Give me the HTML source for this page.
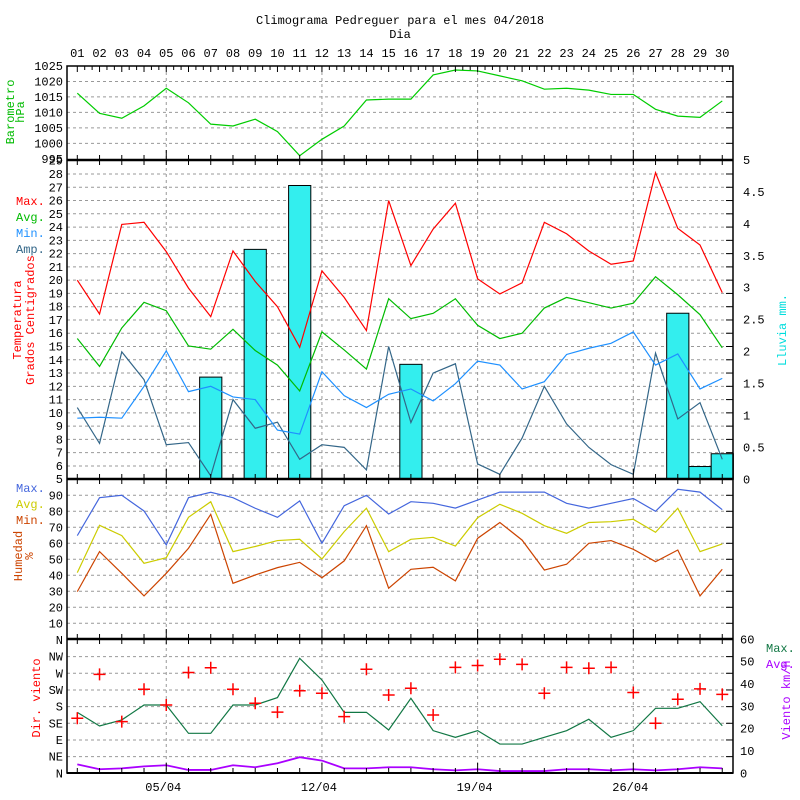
<!DOCTYPE html>
<html><head><meta charset="utf-8"><style>
body{margin:0;background:#fff;}
svg{display:block;font-family:"Liberation Mono",monospace;font-size:12px;}
</style></head><body>
<svg id="chart" width="800" height="800" viewBox="0 0 800 800"></svg>
<script>
const days=["01","02","03","04","05","06","07","08","09","10","11","12","13","14","15","16","17","18","19","20","21","22","23","24","25","26","27","28","29","30"];
const pressure=[1016.2,1009.7,1008.1,1012.1,1017.8,1013.1,1006.2,1005.6,1007.8,1003.8,996,1001.3,1005.6,1014,1014.3,1014.3,1022.1,1023.7,1023.4,1021.8,1020.2,1017.5,1017.8,1017.2,1015.8,1015.8,1011,1008.8,1008.4,1013.7];
const tempMax=[20,17.45,24.2,24.36,22.15,19.4,17.25,22.2,19.9,18,14.94,20.7,18.7,16.2,26,21.1,23.85,25.8,20.1,18.96,19.8,24.36,23.5,22.2,21.2,21.45,28.1,23.9,22.65,19.06];
const tempAvg=[15.6,13.5,16.4,18.33,17.7,15.04,14.8,16.3,14.7,13.6,11.65,16.1,14.74,13.3,18.6,17.1,17.5,18.6,16.6,15.6,16,17.9,18.7,18.3,17.9,18.26,20.26,18.9,17.4,14.9];
const tempMin=[9.6,9.67,9.6,12,14.67,11.6,12,11.2,11,8.7,8.4,13.1,11.3,10.4,11.4,11.8,10.9,12.2,13.9,13.6,11.8,12.35,14.4,14.87,15.24,16.1,13.6,14.44,11.8,12.6];
const tempAmp=[10.4,7.7,14.6,12.5,7.6,7.76,5.25,11,8.84,9.3,6.5,7.6,7.4,5.7,15,9.27,13,13.7,6.15,5.37,8.1,12,9.17,7.4,6.1,5.37,14.5,9.54,10.77,6.5];
const rain=[0,0,0,0,0,0,1.6,0,3.6,0,4.6,0,0,0,0,1.8,0,0,0,0,0,0,0,0,0,0,0,2.6,0.2,0.4];
const humMax=[64.8,88.5,90,80.2,59,88.5,91.9,88.5,81.9,76.25,86.5,60,83.5,90,78.3,86,85,82,87,92,92,92,85,82,85,88,80,93.75,92,81];
const humAvg=[41.7,71.25,64.8,47.5,51,76.25,86,54.8,58,61.7,62.5,50.2,67.3,81.9,54.8,62.5,63.75,58.3,76,84.4,78.75,71,66.25,73,73.5,75,66.9,81.9,54.8,59.6];
const humMin=[29.8,54.8,41.25,27.1,41.25,56.9,78.1,35,40.2,44.8,48.1,38.5,49,71,31.9,43.75,45,36.5,63.1,73,62,43.3,46.9,60,61.7,56.25,48.5,55.8,27.1,43.75];
const windDir=[148.5,267,139.5,227,184.5,272,285,227,189,165,223,216,153,281,211.5,229.5,157.5,286,291,308,294,216,286,283.5,286,218,135,200,228,213];
const windMax=[27.3,21.2,23.9,30.6,30.6,17.9,17.9,30.6,30.6,33.9,51.5,41.8,27.3,27.3,19.4,33.6,19.1,16.1,19.1,13.1,13.1,16.1,19.1,24.2,16.1,19.1,29.1,29.1,32.1,21.3];
const windAvg=[4,1.8,2.2,3.1,3.6,1.5,1.5,3.6,2.7,4.5,7.2,5.7,2.2,2.2,2.7,2.7,1.8,1.3,1.8,1,1,1,1.8,1.8,1.3,1.8,1.3,1.8,2.7,2.2];
const pressTicks=[1025,1020,1015,1010,1005,1000,995];
const tempTicks=[29,28,27,26,25,24,23,22,21,20,19,18,17,16,15,14,13,12,11,10,9,8,7,6,5];
const rainTicks=[5,4.5,4,3.5,3,2.5,2,1.5,1,0.5,0];
const humTicks=[90,80,70,60,50,40,30,20,10];
const dirTicks=["N","NE","E","SE","S","SW","W","NW","N"];
const speedTicks=[60,50,40,30,20,10,0];
const weekLabels=["05/04","12/04","19/04","26/04"];
const weekDays=[5,12,19,26];

const svg=document.getElementById('chart');
const NS="http://www.w3.org/2000/svg";
const L=67,R=733;
const xDay=i=>77.3+i*22.24;
const yP=v=>66+(1025-v)*3.093;
const yT=v=>174+(28-v)*13.27;
const yR=v=>479.3-v*63.87;
const yH=v=>495.3+(90-v)*1.6;
const yD=v=>773.3-v*(16.67/45);
const yS=v=>773.3-v*2.233;
function mk(tag,attrs,parent){const e=document.createElementNS(NS,tag);for(const k in attrs)e.setAttribute(k,attrs[k]);(parent||svg).appendChild(e);return e;}
function txt(s,x,y,fill,anchor,rot){const e=mk('text',{x:x,y:y,fill:fill||'#000','text-anchor':anchor||'start'});if(rot)e.setAttribute('transform','rotate(-90 '+x+' '+y+')');e.textContent=s;return e;}
function hgrid(y){mk('line',{x1:L,x2:R,y1:y,y2:y,stroke:'#999','stroke-dasharray':'3,3','stroke-width':1});mk('line',{x1:R-7,x2:R,y1:y,y2:y,stroke:'#000'});}

// title
let t=txt('Climograma Pedreguer para el mes 04/2018',400,24,'#000','middle');
t=txt('Dia',400,38,'#000','middle');
days.forEach((d,i)=>{const e=txt(d,xDay(i),57,'#000','middle');});

// grids
[1020,1015,1010,1005,1000].forEach(v=>hgrid(yP(v)));
for(let v=6;v<=28;v++)hgrid(yT(v));
humTicks.forEach(v=>hgrid(yH(v)));
for(let k=1;k<8;k++)hgrid(yD(k*45));
weekDays.forEach(d=>{mk('line',{x1:xDay(d-1),x2:xDay(d-1),y1:66,y2:773,stroke:'#999','stroke-dasharray':'3,3'});});

// rain bars
rain.forEach((v,i)=>{if(v<=0)return;const b=mk('rect',{x:xDay(i)-11.1,y:yR(v),width:22.2,height:yR(0)-yR(v),fill:'#33eeee',stroke:'#000','stroke-width':1});

});

function line(arr,yf,color,name,w){const p=mk('polyline',{points:arr.map((v,i)=>xDay(i)+','+yf(v)).join(' '),fill:'none',stroke:color,'stroke-width':w||1.2});

}
line(pressure,yP,'#00cc00','pressure-line');
line(tempAmp,yT,'#336688','temp-amp-line');
line(tempMin,yT,'#1e90ff','temp-min-line');
line(tempAvg,yT,'#00bb00','temp-avg-line');
line(tempMax,yT,'#ff0000','temp-max-line');
line(humMax,yH,'#4466dd','humidity-max-line');
line(humAvg,yH,'#cccc00','humidity-avg-line');
line(humMin,yH,'#cc4400','humidity-min-line');
line(windMax,yS,'#117744','wind-max-line');
line(windAvg,yS,'#aa00ff','wind-avg-line',1.8);
windDir.forEach((v,i)=>{const g=mk('path',{d:'M'+(xDay(i)-6)+' '+yD(v)+'h12M'+xDay(i)+' '+(yD(v)-6)+'v12',stroke:'#ff0000','stroke-width':1.5,fill:'none'});

});

// frame
mk('rect',{x:L,y:66,width:R-L,height:707,fill:'none',stroke:'#000','stroke-width':1.5});
[160,479,639].forEach(y=>mk('line',{x1:L,x2:R,y1:y,y2:y,stroke:'#000','stroke-width':2.5}));
mk('line',{x1:L,x2:R,y1:773,y2:773,stroke:'#000','stroke-width':2});
// ticks
days.forEach((d,i)=>{const x=xDay(i);const big=weekDays.includes(i+1);
[160,479,639,773].forEach(y=>mk('line',{x1:x,x2:x,y1:y-(big?10:5),y2:y+(y==773?0:5),stroke:'#000'}));
for(let k=0;k<3;k++){const xx=x+k*7.41;if(xx<R)mk('line',{x1:xx,x2:xx,y1:66,y2:k?70:72,stroke:'#000'});}});

// left labels
pressTicks.forEach(v=>txt(String(v),63,yP(v)+4,'#000','end'));
tempTicks.forEach(v=>txt(String(v),63,yT(v)+4,'#000','end'));
humTicks.forEach(v=>txt(String(v),63,yH(v)+4,'#000','end'));
dirTicks.forEach((s,k)=>txt(s,63,yD(k*45)+4,'#000','end'));
rainTicks.forEach(v=>txt(String(v),743,yR(v)+4,'#000','start'));
speedTicks.forEach(v=>txt(String(v),740,yS(v)+4,'#000','start'));
weekLabels.forEach((s,k)=>txt(s,xDay(weekDays[k]-1)-3,791,'#000','middle'));

// axis titles & legends
txt('Barometro',14,112,'#00bb00','middle',true);
txt('hPa',24,112,'#00bb00','middle',true);
txt('Temperatura',21,320,'#ff0000','middle',true);
txt('Grados Centigrados',34,320,'#ff0000','middle',true);
txt('Max.',16,205,'#ff0000');txt('Avg.',16,221,'#00bb00');txt('Min.',16,237,'#1e90ff');txt('Amp.',16,253,'#336688');
txt('Lluvia mm.',786,330,'#00dddd','middle',true);
txt('Max.',16,492,'#4466dd');txt('Avg.',16,508,'#cccc00');txt('Min.',16,524,'#cc4400');
txt('Humedad',22,556,'#cc4400','middle',true);
txt('%',33,556,'#cc4400','middle',true);
txt('Dir. viento',40,698,'#ff0000','middle',true);
txt('Max.',766,652,'#117744');txt('Avg.',766,668,'#aa00ff');
txt('Viento km/h',790,700,'#aa00ff','middle',true);
</script>
</body></html>
